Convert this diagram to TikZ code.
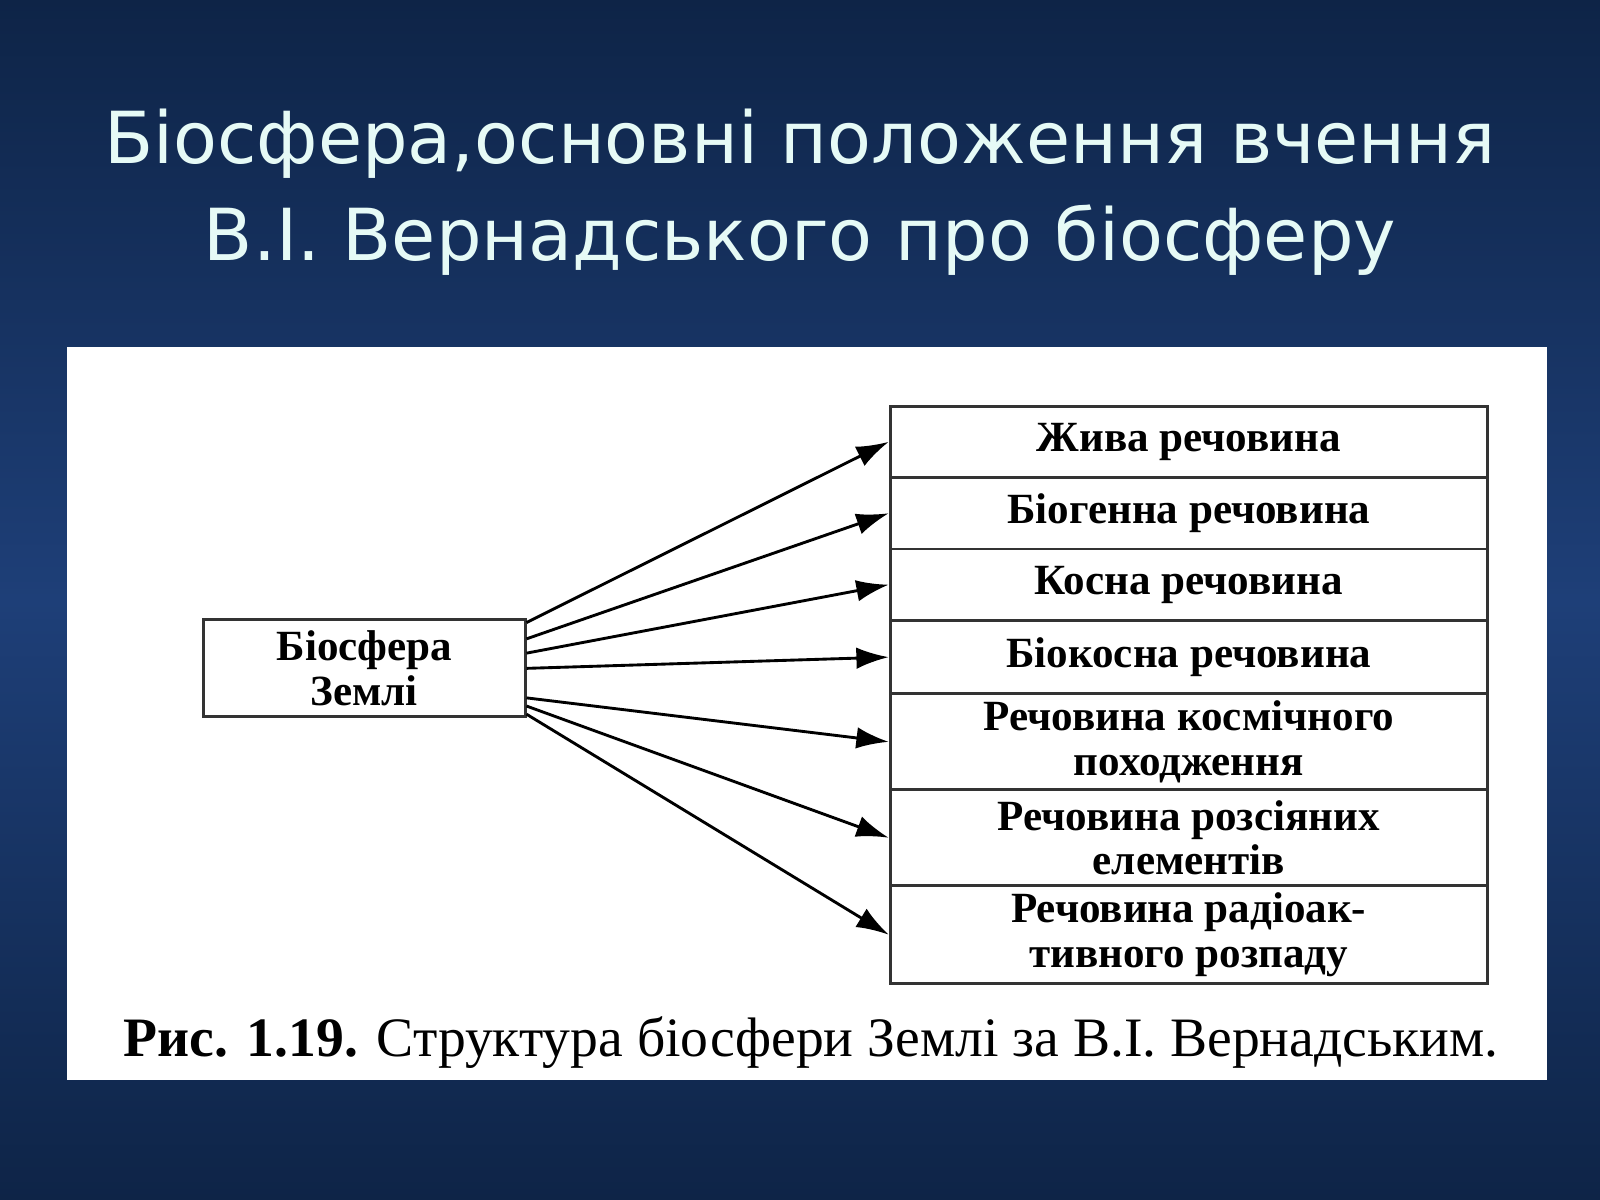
\documentclass[tikz,border=0pt]{standalone}
\usepackage{fontspec}
\setmainfont{Liberation Serif}
\newfontfamily\titlefont{DejaVu Sans}
\usetikzlibrary{arrows.meta}
\definecolor{slide}{HTML}{1E3F78}
\definecolor{slidedark}{HTML}{0E2447}
\definecolor{titletext}{HTML}{E6FAF6}
\tikzset{
  layer/.style={draw=black!80, thick, minimum width=5.85cm, align=center,
    font=\bfseries\fontsize{12}{12.5}\selectfont, inner sep=0pt},
  link/.style={thick, -{Latex[length=9pt,width=6pt]}}
}
\begin{document}
\begin{tikzpicture}[x=0.01cm,y=-0.01cm]
  \useasboundingbox (0,0) rectangle (1568,1176);
  \shade[top color=slidedark, bottom color=slidedark, middle color=slide] (0,0) rectangle (1568,1176);
  \fill[white] (66,340) rectangle (1516,1058);

  % Title
  \node[text=titletext, align=center, font=\titlefont\fontsize{20}{27}\selectfont] (title) at (784,188)
    {Біосфера,основні положення вчення\\В.І. Вернадського про біосферу};

  % Boxes
  \node[layer, minimum height=0.7cm] (live) at (1165,433) {Жива речовина};
  \node[layer, minimum height=0.7cm] (biogen) at (1165,503) {Біогенна речовина};
  \node[layer, minimum height=0.7cm] (inert) at (1165,573) {Косна речовина};
  \node[layer, minimum height=0.72cm] (bioinert) at (1165,644) {Біокосна речовина};
  \node[layer, minimum height=0.94cm] (cosmic) at (1165,727) {Речовина космічного\\походження};
  \node[layer, minimum height=0.94cm] (scatter) at (1165,821) {Речовина розсіяних\\елементів};
  \node[layer, minimum height=0.96cm] (radio) at (1165,916) {Речовина радіоак-\\тивного розпаду};
  \node[layer, minimum width=3.15cm, minimum height=0.95cm] (earth) at (357,655) {Біосфера\\Землі};

  % Arrows
  \draw[link] ([yshift=-0.04cm]earth.north east) -- (live.west);
  \draw[link] ([yshift=-0.2cm]earth.north east) -- (biogen.west);
  \draw[link] ([yshift=-0.34cm]earth.north east) -- (inert.west);
  \draw[link] (earth.east) -- (bioinert.west);
  \draw[link] ([yshift=0.2cm]earth.south east) -- (cosmic.west);
  \draw[link] ([yshift=0.12cm]earth.south east) -- (scatter.west);
  \draw[link] ([yshift=0.04cm]earth.south east) -- (radio.west);

  % Caption
  \node[font=\fontsize{15.5}{18}\selectfont] (caption) at (795,1022)
    {\textbf{Рис. 1.19.} Структура біосфери Землі за В.І. Вернадським.};
\end{tikzpicture}
\end{document}
